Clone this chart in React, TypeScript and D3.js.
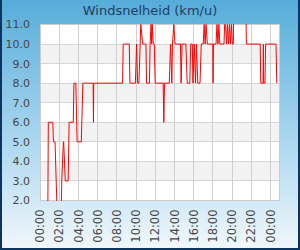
import React from 'react';
import * as d3 from 'd3';

// measurements, HH:MM (after midnight the clock wraps to the next day)
const times = [
  '00:00', '00:48', '00:52', '01:20', '01:24', '01:34', '01:52', '02:10', '02:16', '02:26',
  '02:28', '02:38', '02:56', '03:02', '03:28', '03:32', '03:44', '03:52', '04:18', '04:28',
  '05:32', '05:34', '05:36', '08:36', '08:40', '09:18', '09:22', '09:56', '10:04', '10:10',
  '10:18', '10:30', '10:42', '11:02', '11:06', '11:24', '11:28', '11:34', '11:38', '11:42',
  '11:48', '11:54', '12:00', '12:50', '12:54', '12:58', '13:28', '13:36', '13:44', '13:48',
  '13:56', '14:04', '14:38', '14:42', '14:48', '15:12', '15:20', '15:36', '15:42', '15:52',
  '15:56', '16:04', '16:12', '16:18', '16:26', '16:40', '16:48', '17:00', '17:06', '17:12',
  '17:18', '17:26', '18:00', '18:02', '18:04', '18:20', '18:26', '18:32', '18:38', '18:44',
  '19:10', '19:14', '19:20', '19:26', '19:32', '19:38', '19:44', '19:50', '19:56', '20:02',
  '20:08', '20:12', '21:26', '21:30', '22:56', '23:00', '23:14', '23:16', '23:18', '23:26',
  '23:30', '00:35', '00:40',
];
const speeds = [
  0, 0, 6, 6, 5, 5, 0, 0, 3, 5,
  5, 3, 3, 6, 6, 8, 8, 5, 5, 8,
  8, 6, 8, 8, 10, 10, 8, 8, 10, 8,
  8, 11, 10, 10, 8, 8, 10, 11, 10, 11,
  10, 10, 8, 8, 6, 8, 8, 10, 8, 10,
  11, 10, 10, 8, 10, 10, 8, 8, 10, 10,
  8, 10, 8, 10, 8, 8, 10, 10, 11, 10,
  11, 10, 10, 8, 10, 10, 11, 10, 11, 10,
  10, 11, 11, 10, 11, 10, 11, 10, 11, 10,
  10, 12, 12, 10, 10, 8, 8, 10, 8, 8,
  10, 10, 8,
];
const yTicks = [2, 3, 4, 5, 6, 7, 8, 9, 10, 11];
const bandRanges = [[9, 10], [7, 8], [5, 6], [3, 4]];
const title = 'Windsnelheid (km/u)';

const W = 300;
const H = 250;
const margin = { top: 24.5, right: 20, bottom: 49.5, left: 40 };

const base = new Date(2000, 0, 1);

function parseTimes(list: string[]): Date[] {
  let day = 0;
  let prev = -1;
  return list.map(s => {
    const [h, m] = s.split(':').map(Number);
    const mins = h * 60 + m;
    if (mins < prev) day += 1;
    prev = mins;
    return new Date(base.getTime() + (day * 1440 + mins) * 60000);
  });
}

const App = () => {
  const dates = parseTimes(times);
  const data = dates.map((d, i) => ({ t: d, v: speeds[i] }));

  const x = d3.scaleTime()
    .domain([base, d3.timeHour.offset(base, 25)])
    .range([margin.left, W - margin.right]);
  const y = d3.scaleLinear()
    .domain([2, 11])
    .range([H - margin.bottom, margin.top]);

  const xTicks = d3.timeHour.every(2)!.range(base, d3.timeHour.offset(base, 25));
  const fmt = d3.timeFormat('%H:%M');

  const line = d3.line<{ t: Date; v: number }>()
    .x(d => x(d.t))
    .y(d => y(d.v));

  const crisp = (v: number) => Math.round(v - 0.5) + 0.5;
  const px0 = margin.left;
  const px1 = W - margin.right;
  const py0 = margin.top;
  const py1 = H - margin.bottom;

  return (
    <svg width={W} height={H} style={{ position: 'absolute', left: 0, top: 0, fontFamily: 'DejaVu Sans' }}>
      <defs>
        <linearGradient id="bg" x1="0" y1="0" x2="0" y2="1">
          <stop offset="0%" stopColor="#56acda" />
          <stop offset="55%" stopColor="#a9d6ee" />
          <stop offset="100%" stopColor="#f2f8fc" />
        </linearGradient>
        <clipPath id="plot">
          <rect x={px0} y={py0 - 0.5} width={px1 - px0} height={py1 - py0 + 1} />
        </clipPath>
      </defs>
      <rect x={0} y={0} width={W} height={H} fill="url(#bg)" />
      {/* dark frame: left, right, bottom */}
      <path d={`M1,0 V${H - 1} H${W - 1} V0`} fill="none" stroke="#0e3560" strokeWidth={2} />

      <text x={W / 2} y={15} textAnchor="middle" fontSize={13} fill="#1b3f61">{title}</text>

      {/* plot background with bands */}
      <rect x={px0} y={py0} width={px1 - px0} height={py1 - py0} fill="#ffffff" />
      {bandRanges.map(([a, b]) => (
        <rect key={a} x={px0} y={y(b)} width={px1 - px0} height={y(a) - y(b)} fill="#f2f2f2" />
      ))}

      {/* grid */}
      {yTicks.map(v => (
        <line key={'h' + v} x1={px0} x2={px1} y1={crisp(y(v))} y2={crisp(y(v))} stroke="#d6d6d6" />
      ))}
      {xTicks.map(t => (
        <line key={'v' + t.getTime()} x1={crisp(x(t))} x2={crisp(x(t))} y1={py0} y2={py1} stroke="#cfcfcf" />
      ))}
      <rect x={px0 + 0.5} y={py0} width={px1 - px0 - 1} height={py1 - py0} fill="none" stroke="#cccccc" />

      {/* series */}
      <path d={line(data) || ''} fill="none" stroke="#ff0000" strokeWidth={1} clipPath="url(#plot)" />

      {/* y labels */}
      {yTicks.map(v => (
        <text key={'yl' + v} x={30} y={y(v)} dy="0.36em" textAnchor="end" fontSize={11} fill="#474747">
          {v.toFixed(1)}
        </text>
      ))}

      {/* x labels */}
      {xTicks.map(t => (
        <text
          key={'xl' + t.getTime()}
          transform={`translate(${x(t)},${py1 + 9}) rotate(-90)`}
          dy="0.36em"
          textAnchor="end"
          fontSize={11.5}
          fill="#474747"
        >
          {fmt(t)}
        </text>
      ))}
    </svg>
  );
};

export default App;
